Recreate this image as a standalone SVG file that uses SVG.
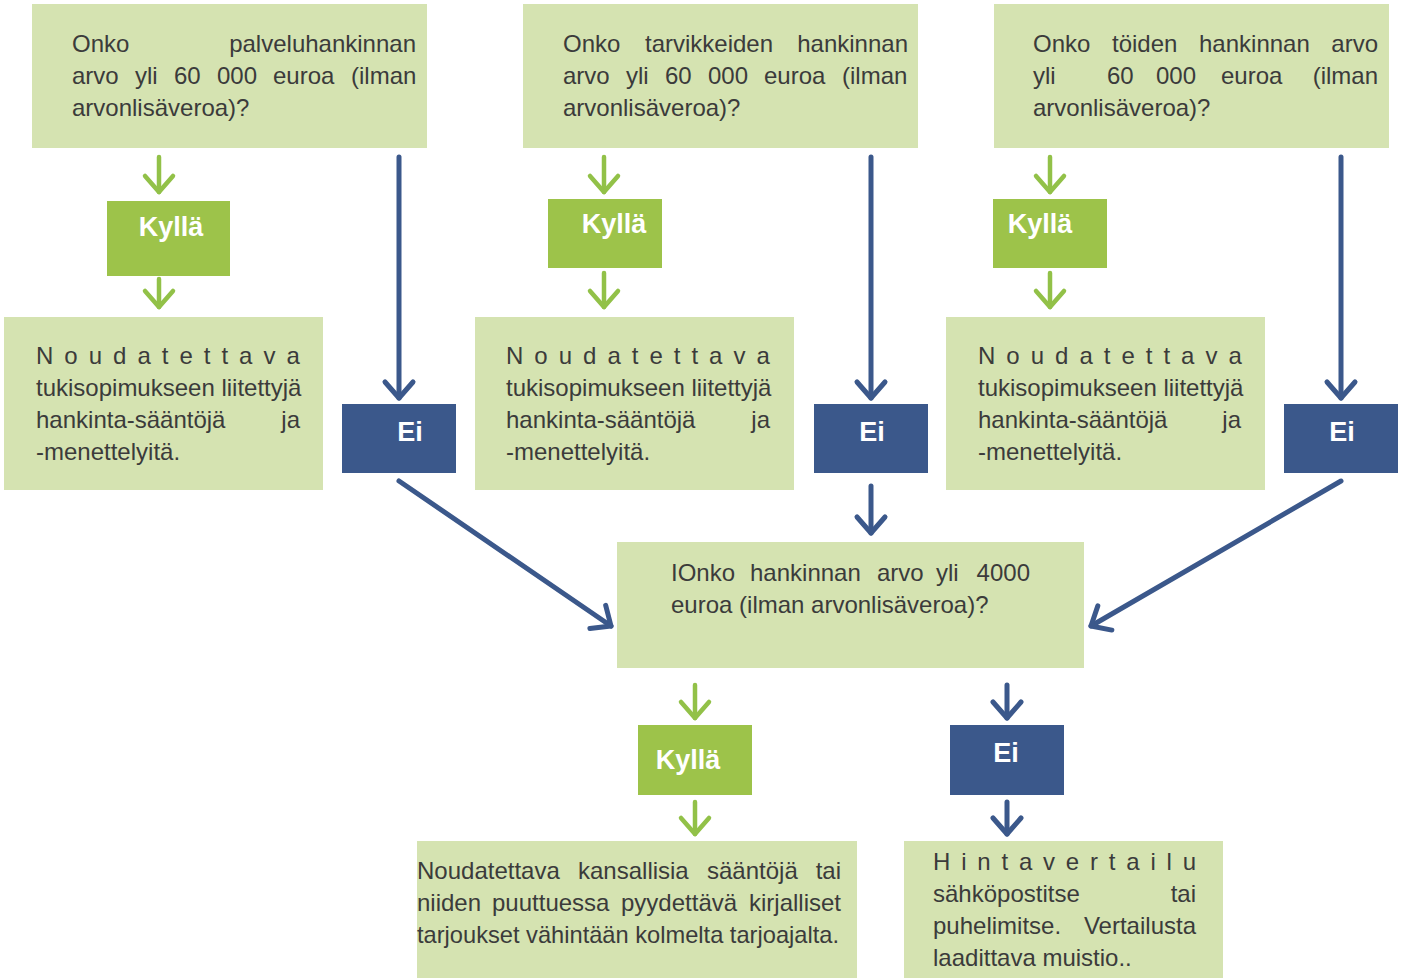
<svg xmlns="http://www.w3.org/2000/svg" width="1405" height="978" viewBox="0 0 1405 978">
<style>
.box{fill:#d5e3b1}
.yes{fill:#9dc34a}
.no{fill:#3b588b}
.t{font-family:"Liberation Sans",Arial,sans-serif;font-size:24px;fill:#3b3b3b}
.lbl{font-family:"Liberation Sans",Arial,sans-serif;font-size:27px;font-weight:bold;fill:#ffffff;text-anchor:middle}
.e{text-anchor:end}
.g{stroke:#92c148;stroke-width:4.5;stroke-linecap:round;fill:none;marker-end:url(#mg)}
.b{stroke:#3b588b;stroke-width:5;stroke-linecap:round;fill:none;marker-end:url(#mb)}
</style>
<defs>
<marker id="mg" markerUnits="userSpaceOnUse" markerWidth="40" markerHeight="40" orient="auto" refX="0" refY="0" overflow="visible">
<path d="M-16,-14 L0,0 L-16,14" fill="none" stroke="#92c148" stroke-width="4.5" stroke-linecap="round" stroke-linejoin="round"/>
</marker>
<marker id="mb" markerUnits="userSpaceOnUse" markerWidth="40" markerHeight="40" orient="auto" refX="0" refY="0" overflow="visible">
<path d="M-16,-14 L0,0 L-16,14" fill="none" stroke="#3b588b" stroke-width="5" stroke-linecap="round" stroke-linejoin="round"/>
</marker>
</defs>
<rect width="1405" height="978" fill="#ffffff"/>

<g id="connectors">
<line class="g" x1="159" y1="157" x2="159" y2="192"/>
<line class="g" x1="159" y1="279" x2="159" y2="307"/>
<line class="g" x1="604" y1="157" x2="604" y2="192"/>
<line class="g" x1="604" y1="273" x2="604" y2="307"/>
<line class="g" x1="1050" y1="157" x2="1050" y2="192"/>
<line class="g" x1="1050" y1="273" x2="1050" y2="307"/>
<line class="b" x1="399" y1="157" x2="399" y2="398"/>
<line class="b" x1="871" y1="157" x2="871" y2="398"/>
<line class="b" x1="1341" y1="157" x2="1341" y2="398"/>
<line class="b" x1="399" y1="481" x2="611" y2="626"/>
<line class="b" x1="1341" y1="481" x2="1091" y2="626"/>
<line class="b" x1="871" y1="486" x2="871" y2="533"/>
<line class="g" x1="695" y1="685" x2="695" y2="718"/>
<line class="g" x1="695" y1="802" x2="695" y2="834"/>
<line class="b" x1="1007" y1="685" x2="1007" y2="718"/>
<line class="b" x1="1007" y1="802" x2="1007" y2="834"/>
</g>

<g id="q1">
<rect class="box" x="32" y="4" width="395" height="144"/>
<text class="t" y="52"><tspan x="72">Onko</tspan><tspan x="416" class="e">palveluhankinnan</tspan></text>
<text class="t" y="84"><tspan x="72">arvo</tspan><tspan x="135">yli</tspan><tspan x="174">60</tspan><tspan x="217">000</tspan><tspan x="273">euroa</tspan><tspan x="351">(ilman</tspan></text>
<text class="t" x="72" y="116">arvonlisäveroa)?</text>
</g>
<g id="q2">
<rect class="box" x="523" y="4" width="395" height="144"/>
<text class="t" y="52"><tspan x="563">Onko</tspan><tspan x="645">tarvikkeiden</tspan><tspan x="908" class="e">hankinnan</tspan></text>
<text class="t" y="84"><tspan x="563">arvo</tspan><tspan x="626">yli</tspan><tspan x="665">60</tspan><tspan x="708">000</tspan><tspan x="764">euroa</tspan><tspan x="842">(ilman</tspan></text>
<text class="t" x="563" y="116">arvonlisäveroa)?</text>
</g>
<g id="q3">
<rect class="box" x="994" y="4" width="395" height="144"/>
<text class="t" y="52"><tspan x="1033">Onko</tspan><tspan x="1112">töiden</tspan><tspan x="1199">hankinnan</tspan><tspan x="1378" class="e">arvo</tspan></text>
<text class="t" y="84"><tspan x="1033">yli</tspan><tspan x="1107">60</tspan><tspan x="1156">000</tspan><tspan x="1221">euroa</tspan><tspan x="1378" class="e">(ilman</tspan></text>
<text class="t" x="1033" y="116">arvonlisäveroa)?</text>
</g>

<g id="kylla1"><rect class="yes" x="107" y="201" width="123" height="75"/><text class="lbl" x="171" y="236">Kyllä</text></g>
<g id="kylla2"><rect class="yes" x="548" y="199" width="114" height="69"/><text class="lbl" x="614" y="233">Kyllä</text></g>
<g id="kylla3"><rect class="yes" x="993" y="199" width="114" height="69"/><text class="lbl" x="1040" y="233">Kyllä</text></g>

<g id="r1">
<rect class="box" x="4" y="317" width="319" height="173"/>
<text class="t" x="36" y="364" letter-spacing="11">Noudatettava</text>
<text class="t" x="36" y="396">tukisopimukseen liitettyjä</text>
<text class="t" y="428"><tspan x="36">hankinta-sääntöjä</tspan><tspan x="300" class="e">ja</tspan></text>
<text class="t" x="36" y="460">-menettelyitä.</text>
</g>
<g id="r2">
<rect class="box" x="475" y="317" width="319" height="173"/>
<text class="t" x="506" y="364" letter-spacing="11">Noudatettava</text>
<text class="t" x="506" y="396">tukisopimukseen liitettyjä</text>
<text class="t" y="428"><tspan x="506">hankinta-sääntöjä</tspan><tspan x="770" class="e">ja</tspan></text>
<text class="t" x="506" y="460">-menettelyitä.</text>
</g>
<g id="r3">
<rect class="box" x="946" y="317" width="319" height="173"/>
<text class="t" x="978" y="364" letter-spacing="11">Noudatettava</text>
<text class="t" x="978" y="396">tukisopimukseen liitettyjä</text>
<text class="t" y="428"><tspan x="978">hankinta-sääntöjä</tspan><tspan x="1241" class="e">ja</tspan></text>
<text class="t" x="978" y="460">-menettelyitä.</text>
</g>

<g id="ei1"><rect class="no" x="342" y="404" width="114" height="69"/><text class="lbl" x="410" y="441">Ei</text></g>
<g id="ei2"><rect class="no" x="814" y="404" width="114" height="69"/><text class="lbl" x="872" y="441">Ei</text></g>
<g id="ei3"><rect class="no" x="1284" y="404" width="114" height="69"/><text class="lbl" x="1342" y="441">Ei</text></g>

<g id="q4">
<rect class="box" x="617" y="542" width="467" height="126"/>
<text class="t" y="581"><tspan x="671">IOnko</tspan><tspan x="750">hankinnan</tspan><tspan x="877">arvo</tspan><tspan x="936">yli</tspan><tspan x="1030" class="e">4000</tspan></text>
<text class="t" x="671" y="613">euroa (ilman arvonlisäveroa)?</text>
</g>

<g id="kylla4"><rect class="yes" x="638" y="725" width="114" height="70"/><text class="lbl" x="688" y="769">Kyllä</text></g>
<g id="ei4"><rect class="no" x="950" y="725" width="114" height="70"/><text class="lbl" x="1006" y="762">Ei</text></g>

<g id="r4">
<rect class="box" x="417" y="841" width="440" height="137"/>
<text class="t" y="879"><tspan x="417">Noudatettava</tspan><tspan x="578">kansallisia</tspan><tspan x="707">sääntöjä</tspan><tspan x="841" class="e">tai</tspan></text>
<text class="t" y="911"><tspan x="417">niiden</tspan><tspan x="492">puuttuessa</tspan><tspan x="621">pyydettävä</tspan><tspan x="841" class="e">kirjalliset</tspan></text>
<text class="t" x="417" y="943" textLength="422" lengthAdjust="spacingAndGlyphs">tarjoukset vähintään kolmelta tarjoajalta.</text>
</g>
<g id="r5">
<rect class="box" x="904" y="841" width="319" height="137"/>
<text class="t" x="933" y="870" letter-spacing="10.8">Hintavertailu</text>
<text class="t" y="902"><tspan x="933">sähköpostitse</tspan><tspan x="1196" class="e">tai</tspan></text>
<text class="t" y="934"><tspan x="933">puhelimitse.</tspan><tspan x="1196" class="e">Vertailusta</tspan></text>
<text class="t" x="933" y="966">laadittava muistio..</text>
</g>
</svg>
